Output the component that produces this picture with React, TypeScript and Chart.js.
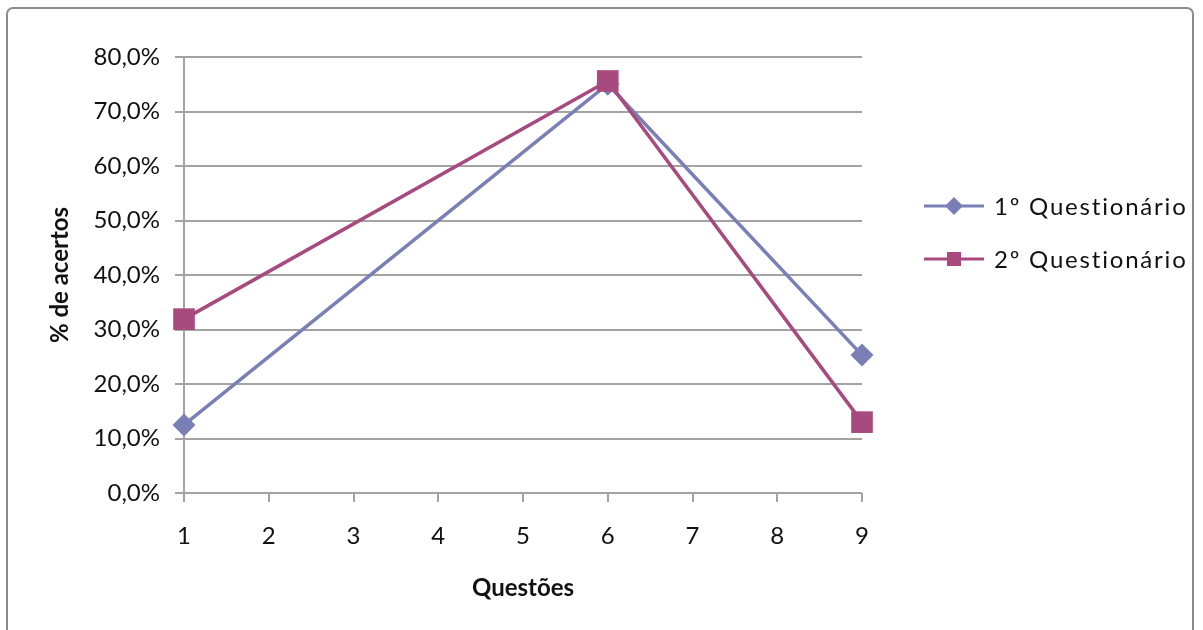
import React, { useEffect, useRef } from "react";
import { Chart, registerables } from "chart.js";

Chart.register(...registerables);

// Question numbers and share of correct answers (%) per questionnaire
const questions = [1, 6, 9];
const firstQuestionnaire = [12.5, 75.0, 25.3];
const secondQuestionnaire = [31.9, 75.6, 13.0];
const seriesNames = ["1º Questionário", "2º Questionário"];
const xTicks = [1, 2, 3, 4, 5, 6, 7, 8, 9];

const FONT = "Lato, 'Open Sans', sans-serif";
const GRID = "#A3A3A3";

const frame = {
  id: "frame",
  beforeDraw(chart: any) {
    const { ctx } = chart;
    ctx.save();
    ctx.fillStyle = "#ffffff";
    ctx.fillRect(0, 0, chart.width, chart.height);
    ctx.strokeStyle = "#8C8C8C";
    ctx.lineWidth = 2;
    ctx.beginPath();
    (ctx as any).roundRect(7, 8, 1186, 660, 6);
    ctx.stroke();
    ctx.restore();
  },
};

// Legend drawn as a short line with the series marker in its middle
const lineLegend = {
  id: "lineLegend",
  afterDraw(chart: any) {
    const { ctx } = chart;
    const rows = [206, 259];
    chart.data.datasets.forEach((ds: any, i: number) => {
      const y = rows[i];
      ctx.save();
      ctx.strokeStyle = ds.borderColor;
      ctx.lineWidth = 3;
      ctx.beginPath();
      ctx.moveTo(924, y);
      ctx.lineTo(984, y);
      ctx.stroke();
      ctx.fillStyle = ds.backgroundColor;
      ctx.beginPath();
      if (ds.pointStyle === "rectRot") {
        const r = 9;
        ctx.moveTo(954, y - r);
        ctx.lineTo(954 + r, y);
        ctx.lineTo(954, y + r);
        ctx.lineTo(954 - r, y);
        ctx.closePath();
      } else {
        ctx.rect(947, y - 7, 14, 14);
      }
      ctx.fill();
      ctx.fillStyle = "#111111";
      ctx.font = `24px ${FONT}`;
      (ctx as any).letterSpacing = "1.8px";
      ctx.textBaseline = "middle";
      ctx.textAlign = "left";
      ctx.fillText(ds.label, 994, y + 1);
      ctx.restore();
    });
  },
};

export default function App() {
  const ref = useRef<HTMLCanvasElement>(null);

  useEffect(() => {
    if (!ref.current) return;
    const chart = new Chart(ref.current, {
      type: "line",
      data: {
        datasets: [
          {
            label: seriesNames[0],
            data: questions.map((q, i) => ({ x: q, y: firstQuestionnaire[i] })),
            borderColor: "#7A80B6",
            backgroundColor: "#7A80B6",
            borderWidth: 3.5,
            pointStyle: "rectRot",
            pointRadius: 11.5,
            pointBorderWidth: 0,
            tension: 0,
            clip: false,
            order: 2,
          },
          {
            label: seriesNames[1],
            data: questions.map((q, i) => ({ x: q, y: secondQuestionnaire[i] })),
            borderColor: "#A84A7E",
            backgroundColor: "#A84A7E",
            borderWidth: 3.5,
            pointStyle: "rect",
            pointRadius: 15.3,
            pointBorderWidth: 0,
            tension: 0,
            clip: false,
            order: 1,
          },
        ],
      },
      options: {
        animation: false,
        responsive: false,
        layout: { padding: { left: 44, right: 341, top: 57, bottom: 0 } },
        plugins: {
          legend: { display: false },
          tooltip: { enabled: false },
        },
        scales: {
          x: {
            type: "linear",
            min: 1,
            max: 9,
            afterBuildTicks: (scale: any) => {
              scale.ticks = xTicks.map((v) => ({ value: v }));
            },
            afterFit: (scale: any) => {
              scale.height = 137;
            },
            grid: {
              drawOnChartArea: false,
              drawTicks: true,
              tickLength: 9,
              color: GRID,
              lineWidth: 2,
            },
            border: { display: false },
            ticks: {
              color: "#111111",
              padding: 20,
              maxRotation: 0,
              font: { family: FONT, size: 24 },
            },
            title: {
              display: true,
              text: "Questões",
              color: "#111111",
              font: { family: FONT, size: 24, weight: "bold" },
              padding: { top: 0, bottom: 27.6 },
            },
          },
          y: {
            min: 0,
            max: 80,
            afterFit: (scale: any) => {
              scale.width = 140;
            },
            ticks: {
              stepSize: 10,
              color: "#111111",
              padding: 15,
              font: { family: FONT, size: 24 },
              callback: (v: any) => Number(v).toFixed(1).replace(".", ",") + "%",
            },
            grid: {
              color: GRID,
              lineWidth: 2,
              tickLength: 9,
            },
            border: { color: GRID, width: 2 },
            title: {
              display: true,
              text: "% de acertos",
              color: "#111111",
              font: { family: FONT, size: 24, weight: "bold" },
              padding: { top: 2, bottom: 0 },
            },
          },
        },
      },
      plugins: [frame, lineLegend],
    });
    return () => chart.destroy();
  }, []);

  return (
    <div style={{ position: "fixed", left: 0, top: 0, width: 1203, height: 630 }}>
      <canvas ref={ref} width={1203} height={630} style={{ display: "block" }} />
    </div>
  );
}
